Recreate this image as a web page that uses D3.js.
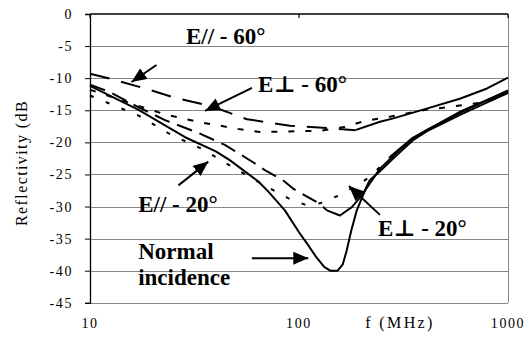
<!DOCTYPE html>
<html>
<head>
<meta charset="utf-8">
<script src="https://cdn.jsdelivr.net/npm/d3@7"></script>
<style>
  body { margin: 0; background: #fff; }
  svg { display: block; }
  svg text { font-family: "Liberation Serif", "DejaVu Serif", "Noto Serif", serif; fill: #000; }
</style>
</head>
<body>
<svg id="chart" width="526" height="338"></svg>
<script>
const serif = '"Liberation Serif", "DejaVu Serif", "Noto Serif", serif';

// Axis ticks
const yTicks = [0, -5, -10, -15, -20, -25, -30, -35, -40, -45];
const xTicks = [10, 100, 1000];

// Reflectivity (dB) versus frequency (MHz)
const freqNormal = [10, 17, 28.5, 40, 46.8, 63.9, 71, 85.6, 100, 110, 121, 132, 141, 153, 162, 169, 178, 189, 207, 244, 287, 350, 408, 600, 1000];
const dbNormal   = [-11.2, -14.9, -19.2, -21.4, -22.8, -26.1, -27.6, -30.6, -34.0, -35.9, -37.9, -39.4, -40.0, -40.0, -39.0, -36.9, -33.7, -30.6, -27.5, -24.1, -21.9, -19.4, -18.1, -15.3, -11.9];

const freqPerp20 = [10, 12.5, 17, 23.1, 32.8, 44.2, 60.3, 70, 83.7, 93.6, 126, 136, 157, 179, 203, 218, 244, 287, 350, 408, 600, 1000];
const dbPerp20   = [-11.0, -12.2, -14.5, -16.6, -18.5, -20.4, -23.1, -24.5, -25.9, -27.2, -29.6, -30.6, -31.4, -30.1, -28.0, -25.9, -24.5, -22.3, -19.7, -18.3, -15.6, -12.3];

const freqPar20 = [10, 17, 24.1, 34.7, 48.3, 71, 88.7, 106.8, 126, 152, 189, 218, 272, 350, 600, 1000];
const dbPar20   = [-12.7, -15.8, -18.7, -21.1, -23.9, -27.0, -28.7, -29.7, -29.5, -28.4, -26.7, -25.4, -22.3, -19.3, -15.1, -12.0];

const freqPar60 = [10, 12.6, 18.3, 25.8, 37.5, 56.4, 90.5, 141, 186, 244, 280, 393, 588, 794, 1000];
const dbPar60   = [-9.3, -10.1, -11.6, -13.1, -14.3, -16.4, -17.4, -17.8, -18.1, -16.8, -16.3, -14.9, -13.2, -11.6, -9.9];

const freqPerp60 = [10, 17, 22.6, 32.8, 41.8, 51, 65, 90, 126, 166, 204, 272, 393, 794, 1000];
const dbPerp60   = [-11.8, -14.3, -15.6, -16.8, -17.4, -17.9, -18.4, -18.3, -18.2, -17.6, -16.7, -16.0, -15.0, -13.7, -12.3];

// Line styles: dash pattern, and frequency above which the trace is drawn solid
const series = [
  { f: freqNormal, v: dbNormal,  dash: null,    solidFrom: 10 },
  { f: freqPerp20, v: dbPerp20,  dash: "16,8",  solidFrom: 136 },
  { f: freqPar20,  v: dbPar20,   dash: "4,13",  solidFrom: 272 },
  { f: freqPar60,  v: dbPar60,   dash: "20,12", solidFrom: 186 },
  { f: freqPerp60, v: dbPerp60,  dash: "6,11",  solidFrom: 794 }
];

// Text annotations anchored in data units (frequency, dB)
const labels = [
  { t: "E// - 60°", f: 28.8, db: -4.6 },
  { t: "E\u22A5 - 60°", f: 63.7, db: -12.2 },
  { t: "E// - 20°", f: 17.0, db: -30.9 },
  { t: "Normal", f: 17.0, db: -38.2 },
  { t: "incidence", f: 17.0, db: -42.3 },
  { t: "E\u22A5 - 20°", f: 238.8, db: -34.6 }
];
// Arrows: [from, to] in (frequency, dB)
const arrows = [
  [[20.8, -7.95], [15.8, -10.6]],
  [[59.6, -11.5], [35.5, -15.1]],
  [[26.5, -26.7], [36.8, -23.0]],
  [[59.5, -38.05], [110.8, -38.05]],
  [[244, -31.3], [173.4, -26.8]]
];

const svg = d3.select("#chart");
const x = d3.scaleLog().domain([10, 1000]).range([90, 508]);
const y = d3.scaleLinear().domain([0, -45]).range([14, 302.8]);

// Gridlines and plot border
svg.append("g").selectAll("line")
  .data(yTicks.filter(d => d !== 0))
  .join("line")
  .attr("x1", x(10)).attr("x2", x(1000))
  .attr("y1", d => Math.round(y(d)) + 0.5).attr("y2", d => Math.round(y(d)) + 0.5)
  .attr("stroke", "#858585").attr("stroke-width", 1);
svg.append("line")
  .attr("x1", x(1000) + 0.5).attr("x2", x(1000) + 0.5)
  .attr("y1", y(0)).attr("y2", y(-45))
  .attr("stroke", "#858585").attr("stroke-width", 1);

// Left axis
const yAxis = svg.append("g")
  .attr("transform", `translate(${x(10)},0)`)
  .call(d3.axisLeft(y).tickValues(yTicks).tickSize(5).tickPadding(12).tickFormat(d => String(d)));
yAxis.attr("font-family", serif).attr("font-size", 14);
yAxis.select(".domain").attr("stroke", "#000").attr("stroke-width", 1.3);
yAxis.selectAll(".tick line").attr("stroke", "#000");
yAxis.selectAll(".tick text")
  .style("font-family", serif)
  .style("font-size", "14px").style("letter-spacing", "1.6px");

// Top axis line (crossing at 0 dB)
svg.append("line")
  .attr("x1", x(10)).attr("x2", x(1000))
  .attr("y1", y(0)).attr("y2", y(0))
  .attr("stroke", "#000").attr("stroke-width", 1.3);
svg.append("g").selectAll("line")
  .data(xTicks)
  .join("line")
  .attr("x1", d => x(d)).attr("x2", d => x(d))
  .attr("y1", y(0)).attr("y2", y(0) + 4)
  .attr("stroke", "#000").attr("stroke-width", 1.2);

// Frequency labels along the bottom
svg.append("g").selectAll("text")
  .data(xTicks)
  .join("text")
  .attr("x", d => x(d)).attr("y", 328)
  .attr("text-anchor", "middle")
  .style("font-family", serif)
  .style("font-size", "14px").style("letter-spacing", "1.6px")
  .text(d => String(d));

// Axis titles
svg.append("text")
  .attr("x", 400).attr("y", 328)
  .attr("text-anchor", "middle")
  .style("font-family", serif)
  .style("font-size", "16px").style("letter-spacing", "2.4px")
  .text("f (MHz)");
svg.append("text")
  .attr("transform", `translate(27,${163}) rotate(-90)`)
  .attr("text-anchor", "middle")
  .style("font-family", serif)
  .style("font-size", "16px").style("letter-spacing", "1.4px")
  .text("Reflectivity (dB");

// Curves
const line = d3.line().x(d => x(d[0])).y(d => y(d[1])).curve(d3.curveLinear);
const curves = svg.append("g").attr("fill", "none").attr("stroke", "#000")
  .attr("stroke-width", 2).attr("stroke-linejoin", "round");
series.forEach(s => {
  const pts = s.f.map((f, i) => [f, s.v[i]]);
  const dashed = pts.filter(p => p[0] <= s.solidFrom);
  const solid = pts.filter(p => p[0] >= s.solidFrom);
  if (s.dash && dashed.length > 1) {
    curves.append("path").attr("d", line(dashed)).attr("stroke-dasharray", s.dash);
  }
  if (solid.length > 1) {
    curves.append("path").attr("d", line(solid));
  }
});

// Arrow heads
svg.append("defs").append("marker")
  .attr("id", "head")
  .attr("viewBox", "0 0 15 13")
  .attr("refX", 15).attr("refY", 6.5)
  .attr("markerWidth", 15).attr("markerHeight", 13)
  .attr("markerUnits", "userSpaceOnUse")
  .attr("orient", "auto")
  .append("path").attr("d", "M0,0 L15,6.5 L0,13 Z").attr("fill", "#000");

svg.append("g").selectAll("line")
  .data(arrows)
  .join("line")
  .attr("x1", d => x(d[0][0])).attr("y1", d => y(d[0][1]))
  .attr("x2", d => x(d[1][0])).attr("y2", d => y(d[1][1]))
  .attr("stroke", "#000").attr("stroke-width", 2)
  .attr("marker-end", "url(#head)");

// Series labels
svg.append("g").selectAll("text")
  .data(labels)
  .join("text")
  .attr("x", d => x(d.f)).attr("y", d => y(d.db))
  .style("font-family", serif)
  .style("font-size", "23px").style("font-weight", "bold")
  .text(d => d.t);
</script>
</body>
</html>
